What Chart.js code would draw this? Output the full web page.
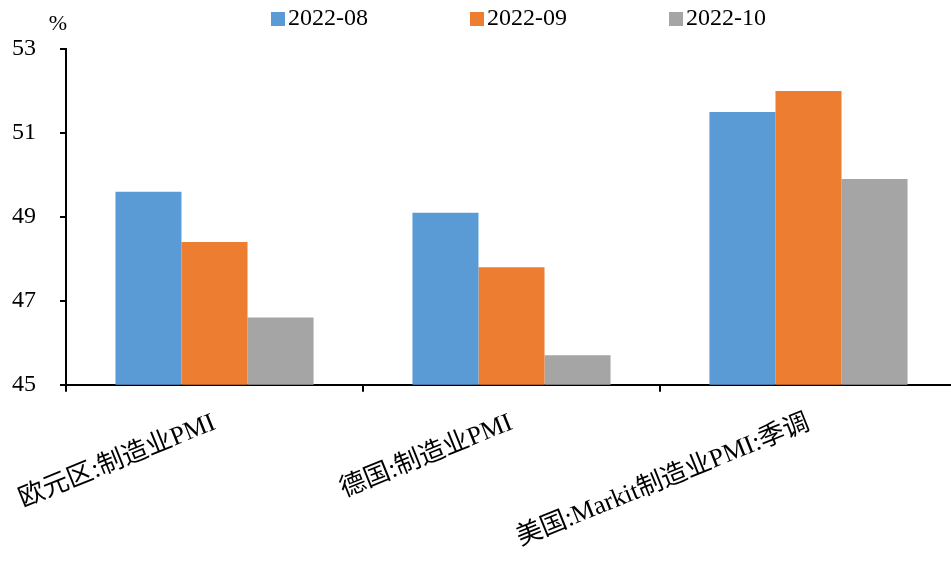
<!DOCTYPE html>
<html><head><meta charset="utf-8">
<script src="https://cdn.jsdelivr.net/npm/chart.js@4"></script>
<style>html,body{margin:0;padding:0;overflow:hidden;background:#fff}</style>
</head><body>
<canvas id="c" width="960" height="562"></canvas>
<script>
const categories = ['欧元区:制造业PMI', '德国:制造业PMI', '美国:Markit制造业PMI:季调'];
const seriesNames = ['2022-08', '2022-09', '2022-10'];
const values202208 = [49.6, 49.1, 51.5];
const values202209 = [48.4, 47.8, 52.0];
const values202210 = [46.6, 45.7, 49.9];
const yMin = 45, yMax = 53, yStep = 2;
const unitLabel = '%';

const colors = ['#5B9BD5', '#ED7D31', '#A5A5A5'];
const fontFamily = "'Liberation Serif', 'Noto Sans CJK SC', serif";

const legendAndUnit = {
  id: 'legendAndUnit',
  afterDraw(chart) {
    const ctx = chart.ctx;
    const area = chart.chartArea;
    ctx.save();
    ctx.font = '24px ' + fontFamily;
    ctx.textBaseline = 'middle';
    ctx.textAlign = 'left';
    const legendX = 271, legendPitch = 199, legendY = 19, box = 14;
    chart.data.datasets.forEach((ds, i) => {
      const x = legendX + i * legendPitch;
      ctx.fillStyle = ds.backgroundColor;
      ctx.fillRect(x, legendY - box / 2, box, box);
      ctx.fillStyle = '#000';
      ctx.fillText(ds.label, x + 17, legendY);
    });
    ctx.font = '22px ' + fontFamily;
    ctx.textAlign = 'center';
    ctx.fillText(unitLabel, area.left - 8, area.top - 25);
    ctx.restore();
  }
};

const datasets = [values202208, values202209, values202210].map((vals, i) => ({
  label: seriesNames[i],
  data: vals,
  backgroundColor: colors[i],
  borderWidth: 0,
  categoryPercentage: 0.667,
  barPercentage: 1.0
}));

new Chart(document.getElementById('c'), {
  type: 'bar',
  data: { labels: categories, datasets },
  options: {
    responsive: false,
    animation: false,
    devicePixelRatio: 1,
    layout: { padding: { top: 49, left: 12, right: 3, bottom: -8 } },
    plugins: { legend: { display: false }, tooltip: { enabled: false } },
    scales: {
      x: {
        offset: true,
        afterFit(scale) { scale.paddingLeft = 0; scale.paddingRight = 0; },
        border: { display: true, color: '#000', width: 2 },
        grid: { display: true, offset: true, drawOnChartArea: false, drawTicks: true, tickLength: 7, color: '#000', lineWidth: 2 },
        ticks: {
          autoSkip: false, minRotation: 22, maxRotation: 22, padding: 16,
          color: '#000', font: { family: fontFamily, size: 26 }
        }
      },
      y: {
        min: yMin, max: yMax,
        afterFit(scale) { scale.width = 54; },
        border: { display: true, color: '#000', width: 2 },
        grid: { display: true, drawOnChartArea: false, drawTicks: true, tickLength: 6, color: '#000', lineWidth: 2 },
        ticks: { stepSize: yStep, padding: 24, color: '#000', font: { family: fontFamily, size: 24 } }
      }
    }
  },
  plugins: [legendAndUnit]
});
</script>
</body></html>
